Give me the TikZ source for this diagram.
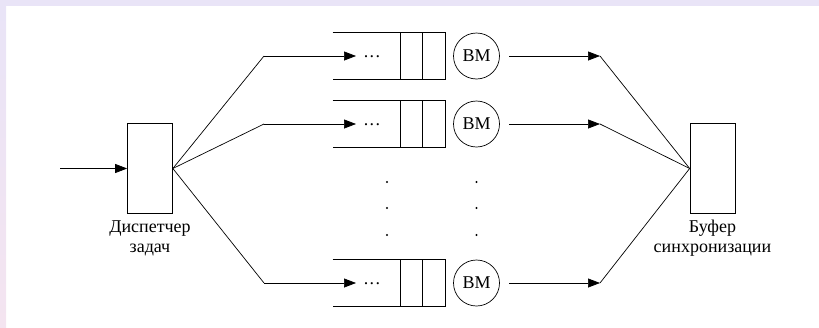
\documentclass[tikz,border=0pt]{standalone}
\usepackage{fontspec}
\setmainfont{Liberation Serif}
\newfontfamily\diagfont{Liberation Serif}
\usetikzlibrary{arrows.meta}
\definecolor{framelav}{HTML}{E9E4F7}
\definecolor{framepink}{HTML}{F4E4F0}
\begin{document}
\begin{tikzpicture}[x=1pt,y=-1pt,
  line width=0.7pt,
  tip/.style={-{Triangle[length=12pt,width=9pt]}},
  boxnode/.style={draw,rectangle,minimum width=45pt,minimum height=90pt,inner sep=0pt},
  qslot/.style={rectangle,minimum width=112pt,minimum height=46pt,inner sep=0pt},
  vm/.style={draw,circle,minimum size=46pt,inner sep=0pt,font=\diagfont\fontsize{18}{20}\selectfont},
  lbl/.style={align=center,font=\diagfont\fontsize{18}{20}\selectfont,inner sep=0pt},
  dotsnode/.style={inner sep=0pt,anchor=base,font=\diagfont\fontsize{18}{20}\selectfont},
  vdot/.style={circle,fill=black,minimum size=2.4pt,inner sep=0pt}]
% page frame
\useasboundingbox (0,0) rectangle (819,327);
\fill[framelav] (0,0) rectangle (819,6);
\shade[top color=framelav,bottom color=framepink] (0,6) rectangle (6,327);

% dispatcher and synchronisation buffer
\node[boxnode] (disp) at (150,168.5) {};
\node[boxnode] (buf) at (712.5,168.5) {};
\node[lbl] (displbl) at (150,238) {Диспетчер\\задач};
\node[lbl] (buflbl) at (712.5,238) {Буфер\\синхронизации};
\coordinate (in) at (60,168.5);
\draw[tip] (in) -- (disp.west);

% three queues with their machines
\foreach \i/\y in {1/56,2/124,3/283}{
  \node[qslot] (q\i) at (389,\y) {};
  \draw (q\i.north west) -- (q\i.north east) -- (q\i.south east) -- (q\i.south west);
  \draw ([xshift=-45pt]q\i.north east) -- ([xshift=-45pt]q\i.south east);
  \draw ([xshift=-23pt]q\i.north east) -- ([xshift=-23pt]q\i.south east);
  \node[dotsnode] (d\i) at (372,\y+1) {.\hspace{1.5pt}.\hspace{1.5pt}.};
  \node[vm] (vm\i) at (476.5,\y) {ВМ};
  \coordinate (k\i) at (264,\y);
  \coordinate (t\i) at (356,\y);
  \coordinate (o\i) at (509,\y);
  \coordinate (p\i) at (600,\y);
  \draw (disp.east) -- (k\i);
  \draw[tip] (k\i) -- (t\i);
  \draw[tip] (o\i) -- (p\i);
  \draw (p\i) -- (buf.west);
}

% elided queues
\foreach \y [count=\j] in {182,208,235}{
  \node[vdot] (va\j) at (387,\y) {};
  \node[vdot] (vb\j) at (476.5,\y) {};
}
\end{tikzpicture}
\end{document}
